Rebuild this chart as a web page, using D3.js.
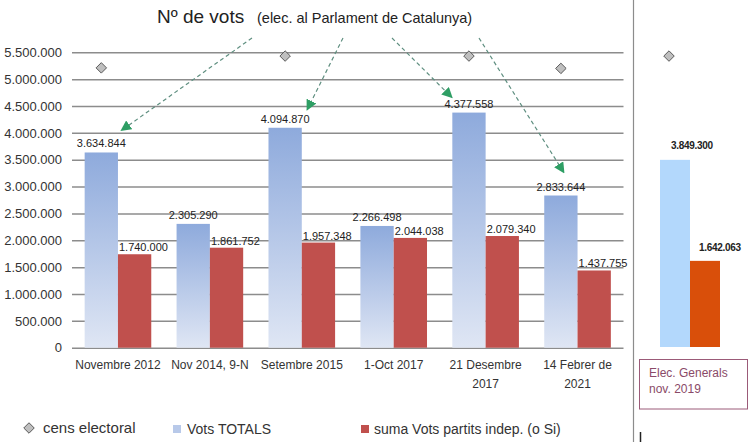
<!DOCTYPE html>
<html><head><meta charset="utf-8">
<script src="https://cdn.jsdelivr.net/npm/d3@7"></script>
<style>
html,body{margin:0;padding:0;background:#fff;}
svg{display:block;font-family:"Liberation Sans",Arial,sans-serif;}
</style></head>
<body>
<svg id="c" width="752" height="442"></svg>
<script>
// ---- data ----
const categories = [["Novembre 2012"],["Nov 2014, 9-N"],["Setembre 2015"],["1-Oct 2017"],["21 Desembre","2017"],["14 Febrer de","2021"]];
const votsTotals = [3634844, 2305290, 4094870, 2266498, 4377558, 2833644];
const votsIndep  = [1740000, 1861752, 1957348, 2044038, 2079340, 1437755];
const censElectoral = [5210000, null, 5430000, null, 5430000, 5200000];
const yTicks = [0,500000,1000000,1500000,2000000,2500000,3000000,3500000,4000000,4500000,5000000,5500000];
const generalsLabel = ["Elec. Generals","nov. 2019"];
const generalsTotals = 3849300;
const generalsIndep = 1642063;
const generalsCens = 5430000;
const arrowTargets = [0, 2, 4, 5];

const fmt = v => d3.format(",")(v).replace(/,/g, ".");
const svg = d3.select("#c");

const defs = svg.append("defs");
const grad = defs.append("linearGradient").attr("id","blueGrad").attr("x1",0).attr("y1",0).attr("x2",0).attr("y2",1);
grad.append("stop").attr("offset","0%").attr("stop-color","#8eaadc");
grad.append("stop").attr("offset","100%").attr("stop-color","#dfe6f4");
defs.append("marker").attr("id","arr").attr("viewBox","0 0 10 10").attr("refX",9).attr("refY",5)
  .attr("markerWidth",9).attr("markerHeight",9).attr("orient","auto-start-reverse")
  .append("path").attr("d","M0,0 L10,5 L0,10 Z").attr("fill","#2e9e64");

// ---- scales ----
const keys = categories.map((c,i)=>i);
const x = d3.scaleBand().domain(keys).range([72, 623.5]).paddingInner(0).paddingOuter(0);
const xs = d3.scaleBand().domain(["t","s"]).range([0, x.bandwidth()]).paddingOuter(0.38).paddingInner(0);
const y = d3.scaleLinear().domain([0, 5500000]).range([347.7, 52.3]);

// gridlines
const yAxis = d3.axisLeft(y).tickValues(yTicks).tickSize(-(623.5-72)).tickFormat(fmt).tickPadding(10);
const ga = svg.append("g").attr("transform","translate(72,0)").call(yAxis);
ga.select(".domain").remove();
ga.selectAll(".tick line").attr("stroke","#8c8c8c").attr("stroke-width",1.5);
ga.selectAll(".tick text").attr("font-size",13).attr("fill","#333").attr("font-family","Liberation Sans, Arial");

// bars
const g = svg.append("g");
g.selectAll("rect.t").data(votsTotals).join("rect").attr("class","t")
  .attr("x",(d,i)=>x(i)+xs("t")).attr("width",xs.bandwidth())
  .attr("y",d=>y(d)).attr("height",d=>y(0)-y(d)).attr("fill","url(#blueGrad)");
g.selectAll("rect.s").data(votsIndep).join("rect").attr("class","s")
  .attr("x",(d,i)=>x(i)+xs("s")).attr("width",xs.bandwidth())
  .attr("y",d=>y(d)).attr("height",d=>y(0)-y(d)).attr("fill","#c0504d");

// labels
g.selectAll("text.lt").data(votsTotals).join("text").attr("class","lt")
  .attr("x",(d,i)=>x(i)+xs("t")+xs.bandwidth()/2).attr("y",d=>y(d)-5)
  .attr("text-anchor","middle").attr("font-size",11).attr("fill","#222").text(fmt);
g.selectAll("text.ls").data(votsIndep).join("text").attr("class","ls")
  .attr("x",(d,i)=>x(i)+xs("s")+1).attr("y",d=>y(d)-3)
  .attr("text-anchor","start").attr("font-size",11).attr("fill","#222").text(fmt);

// diamonds
const diamond = d3.symbol().type(d3.symbolDiamond2).size(70);
g.selectAll("path.cens").data(censElectoral.map((v,i)=>({v,i})).filter(d=>d.v!=null)).join("path")
  .attr("class","cens").attr("d",diamond)
  .attr("transform",d=>`translate(${x(d.i)+xs("t")+xs.bandwidth()/2},${y(d.v)})`)
  .attr("fill","#bfbfbf").attr("stroke","#5a5a5a").attr("stroke-width",1);

// x labels
categories.forEach((lines,i)=>{
  const t = g.append("text").attr("x",x(i)+x.bandwidth()/2).attr("y",369)
    .attr("text-anchor","middle").attr("font-size",12).attr("fill","#333");
  lines.forEach((l,k)=>t.append("tspan").attr("x",x(i)+x.bandwidth()/2).attr("dy",k?19:0).text(l));
});

// title
svg.append("text").attr("x",157).attr("y",23).attr("font-size",19).attr("fill","#222").text("Nº de vots");
svg.append("text").attr("x",257).attr("y",23).attr("font-size",14.5).attr("fill","#222").text("(elec. al Parlament de Catalunya)");

// arrows
const starts = [[252,38],[343,38],[392,38],[479,38]];
const endOff = [[20,-22],[22,-18],[-17,-15],[3,-23]];
arrowTargets.forEach((ci,k)=>{
  const cx = x(ci)+xs("t")+xs.bandwidth()/2;
  const ex = cx+endOff[k][0], ey = y(votsTotals[ci])+endOff[k][1];
  svg.append("line").attr("x1",starts[k][0]).attr("y1",starts[k][1]).attr("x2",ex).attr("y2",ey)
    .attr("stroke","#5f8f80").attr("stroke-width",1.2).attr("stroke-dasharray","4,3")
    .attr("marker-end","url(#arr)");
});

// right panel
svg.append("line").attr("x1",633.5).attr("x2",633.5).attr("y1",0).attr("y2",442).attr("stroke","#8c8c8c").attr("stroke-width",1.2);
svg.append("line").attr("x1",640.5).attr("x2",640.5).attr("y1",432).attr("y2",442).attr("stroke","#222").attr("stroke-width",1.5);
const xr = d3.scaleBand().domain(["t","s"]).range([660, 720]);
const yr = d3.scaleLinear().domain([-240000, 5500000]).range([347, 84.3]);
const base = yr.range()[0];
const rp = svg.append("g");
rp.append("rect").attr("x",xr("t")).attr("width",xr.bandwidth()).attr("y",yr(generalsTotals)).attr("height",base-yr(generalsTotals)).attr("fill","#b3d8fc");
rp.append("rect").attr("x",xr("s")).attr("width",xr.bandwidth()).attr("y",yr(generalsIndep)).attr("height",base-yr(generalsIndep)).attr("fill","#d94f0a");
rp.append("text").attr("x",xr("t")+xr.bandwidth()/2+17).attr("y",yr(generalsTotals)-11).attr("text-anchor","middle")
  .attr("font-size",10).attr("font-weight","bold").attr("fill","#222").attr("letter-spacing",-0.3).text(fmt(generalsTotals));
rp.append("text").attr("x",xr("s")+xr.bandwidth()/2+15).attr("y",yr(generalsIndep)-10).attr("text-anchor","middle")
  .attr("font-size",10).attr("font-weight","bold").attr("fill","#222").attr("letter-spacing",-0.3).text(fmt(generalsIndep));
rp.append("path").attr("d",diamond).attr("transform",`translate(${xr("t")+9},${y(generalsCens)})`)
  .attr("fill","#bfbfbf").attr("stroke","#5a5a5a");
rp.append("rect").attr("x",639.5).attr("y",359.5).attr("width",108).attr("height",49.5).attr("fill","#fff").attr("stroke","#9b5a78").attr("stroke-width",1);
generalsLabel.forEach((l,k)=>rp.append("text").attr("x",649).attr("y",377+k*16).attr("font-size",12).attr("fill","#8a4a68").text(l));

// legend
const lg = svg.append("g").attr("font-size",14).attr("fill","#333");
lg.append("path").attr("d",d3.symbol().type(d3.symbolDiamond2).size(70)).attr("transform","translate(29,428)")
  .attr("fill","#bfbfbf").attr("stroke","#5a5a5a");
lg.append("text").attr("x",43).attr("y",433).attr("font-size",15).text("cens electoral");
lg.append("rect").attr("x",173).attr("y",425).attr("width",8).attr("height",8).attr("fill","#b8c9e9");
lg.append("text").attr("x",187).attr("y",434).text("Vots TOTALS");
lg.append("rect").attr("x",361).attr("y",425).attr("width",8).attr("height",8).attr("fill","#c0504d");
lg.append("text").attr("x",374).attr("y",434).text("suma Vots partits indep. (o Si)");
</script>
</body></html>
